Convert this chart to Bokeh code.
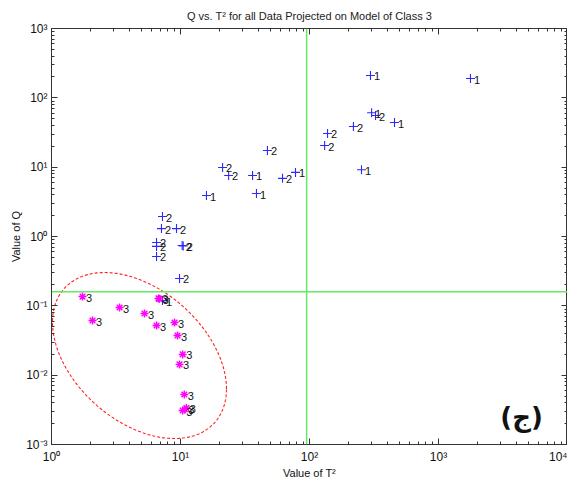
import numpy as np
from bokeh.plotting import figure
from bokeh.models import (ColumnDataSource, FixedTicker, CustomJSTickFormatter,
                          LogAxis, Span)
from bokeh.core.properties import value
from bokeh.embed import file_html
from bokeh.resources import INLINE

# ---------------- data ----------------
title_text = "Q vs. T\u00b2 for all Data Projected on Model of Class 3"
x_label = "Value of T\u00b2"
y_label = "Value of Q"

x_ticks = [1, 10, 100, 1000, 10000]
x_tick_labels = ["10\u2070", "10\u00b9", "10\u00b2", "10\u00b3", "10\u2074"]
y_ticks = [0.001, 0.01, 0.1, 1, 10, 100, 1000]
y_tick_labels = ["10\u207b\u00b3", "10\u207b\u00b2", "10\u207b\u00b9", "10\u2070",
                 "10\u00b9", "10\u00b2", "10\u00b3"]

class1_x = [297, 1770, 303, 456, 253, 77.9, 36.2, 15.9, 38.8, 7.25]
class1_y = [210, 190, 61, 44, 9.2, 8.4, 7.6, 3.9, 4.17, 0.119]

class2_x = [325, 47.2, 21.2, 23.6, 61.8, 138, 131, 219, 7.25, 7.12, 9.31,
            6.52, 6.52, 6.52, 10.3, 10.5, 9.83]
class2_y = [55.6, 17.4, 9.9, 7.6, 6.9, 30.6, 20.5, 38.5, 1.94, 1.30, 1.30,
            0.82, 0.72, 0.515, 0.74, 0.73, 0.248]

class3_x = [1.74, 3.37, 2.08, 5.26, 6.75, 6.85, 6.52, 8.99, 9.48, 10.4, 9.83,
            10.7, 10.4, 10.8, 11.1]
class3_y = [0.136, 0.0946, 0.0614, 0.0775, 0.128, 0.126, 0.052, 0.0574, 0.0373,
            0.0199, 0.0143, 0.00526, 0.00309, 0.0032, 0.00335]

t2_limit = 95.0     # vertical threshold
q_limit = 0.16      # horizontal threshold

# ellipse (log10 space): center and Cholesky factor
ell_cx, ell_cy = 0.682, -1.717
ell_l11, ell_l21, ell_l22 = 0.6744, -0.4809, 1.0962

panel_label = "\u200e(\u062c)\u200e"
panel_x, panel_y = 4400, 0.0025

# ---------------- figure ----------------
FONT = "Liberation Sans"
p = figure(x_axis_type="log", y_axis_type="log",
           x_range=(1, 1e4), y_range=(1e-3, 1e3),
           frame_width=516, frame_height=416,
           min_border_left=51, min_border_right=0, min_border_top=28,
           min_border_bottom=4,
           output_backend="svg", toolbar_location=None, title=title_text)
p.background_fill_color = "white"
p.border_fill_color = "white"
p.outline_line_color = "#333333"
p.grid.visible = False

p.title.align = "center"
p.title.text_font = FONT
p.title.text_font_size = "11px"
p.title.text_font_style = "normal"
p.title.text_color = "#222222"
p.title.standoff = 13

def minor(ticks):
    out = []
    for t in ticks[:-1]:
        out += [t * k for k in range(2, 10)]
    return out

def fmt(ticks, labels):
    return CustomJSTickFormatter(args=dict(tvals=ticks, tlabs=labels), code="""
        for (let i = 0; i < tvals.length; i++) {
            if (Math.abs(Math.log10(tvals[i]) - Math.log10(tick)) < 1e-6) return tlabs[i];
        }
        return '';
    """)

def style_axis(ax):
    ax.major_tick_in = 6
    ax.major_tick_out = 0
    ax.minor_tick_in = 3
    ax.minor_tick_out = 0
    ax.axis_line_color = "#333333"
    ax.major_tick_line_color = "#333333"
    ax.minor_tick_line_color = "#333333"
    ax.major_label_text_font = FONT
    ax.major_label_text_font_size = "12px"
    ax.major_label_text_color = "#111111"
    ax.axis_label_text_font = FONT
    ax.axis_label_text_font_size = "11px"
    ax.axis_label_text_font_style = "normal"
    ax.axis_label_text_color = "#111111"

xt = FixedTicker(ticks=x_ticks, minor_ticks=minor(x_ticks))
yt = FixedTicker(ticks=y_ticks, minor_ticks=minor(y_ticks))

p.xaxis.ticker = xt
p.yaxis.ticker = yt
p.xaxis.formatter = fmt(x_ticks, x_tick_labels)
p.yaxis.formatter = fmt(y_ticks, y_tick_labels)
for ax in p.xaxis:
    style_axis(ax)
    ax.axis_label = x_label
    ax.major_label_standoff = 5
    ax.axis_label_standoff = 0
for ax in p.yaxis:
    style_axis(ax)
    ax.axis_label = y_label
    ax.major_label_standoff = 4
    ax.axis_label_standoff = 1

blank = CustomJSTickFormatter(code="return '';")
top_ax = LogAxis(ticker=FixedTicker(ticks=x_ticks, minor_ticks=minor(x_ticks)),
                 formatter=blank)
style_axis(top_ax)
top_ax.major_label_standoff = 0
top_ax.major_label_text_font_size = "1px"
p.add_layout(top_ax, "above")
right_ax = LogAxis(ticker=FixedTicker(ticks=y_ticks, minor_ticks=minor(y_ticks)),
                   formatter=CustomJSTickFormatter(code="return '';"))
style_axis(right_ax)
right_ax.major_label_standoff = 0
right_ax.major_label_text_font_size = "1px"
p.add_layout(right_ax, "right")

# threshold lines
p.add_layout(Span(location=t2_limit, dimension="height", line_color="#66e866", line_width=1.5))
p.add_layout(Span(location=q_limit, dimension="width", line_color="#66e866", line_width=1.5))

# ellipse
t = np.linspace(0, 2 * np.pi, 240)
ex = 10 ** (ell_cx + ell_l11 * np.cos(t))
ey = 10 ** (ell_cy + ell_l21 * np.cos(t) + ell_l22 * np.sin(t))
p.line(ex, ey, line_color="#ff2020", line_dash="3 2", line_width=1.1)

# data
s1 = ColumnDataSource(dict(x=class1_x, y=class1_y, lab=["1"] * len(class1_x)))
s2 = ColumnDataSource(dict(x=class2_x, y=class2_y, lab=["2"] * len(class2_x)))
s3 = ColumnDataSource(dict(x=class3_x, y=class3_y, lab=["3"] * len(class3_x)))

for s in (s1, s2):
    p.scatter("x", "y", source=s, marker="cross", size=9, line_color="#2a2aff", line_width=1.1)
p.scatter("x", "y", source=s3, marker="asterisk", size=8, line_color="#ff00ff", line_width=1.4)

for s in (s1, s2, s3):
    p.text("x", "y", text="lab", source=s, x_offset=3.5, y_offset=1,
           text_font=value(FONT), text_font_size="11px", text_color="#111111",
           text_baseline="middle", text_align="left")

p.text(x=[panel_x], y=[panel_y], text=[panel_label], text_font=value("DejaVu Sans"),
       text_font_style="bold", text_font_size="26px", text_color="#111111",
       text_align="center", text_baseline="middle")

open("out.html", "w").write(file_html(p, INLINE))
